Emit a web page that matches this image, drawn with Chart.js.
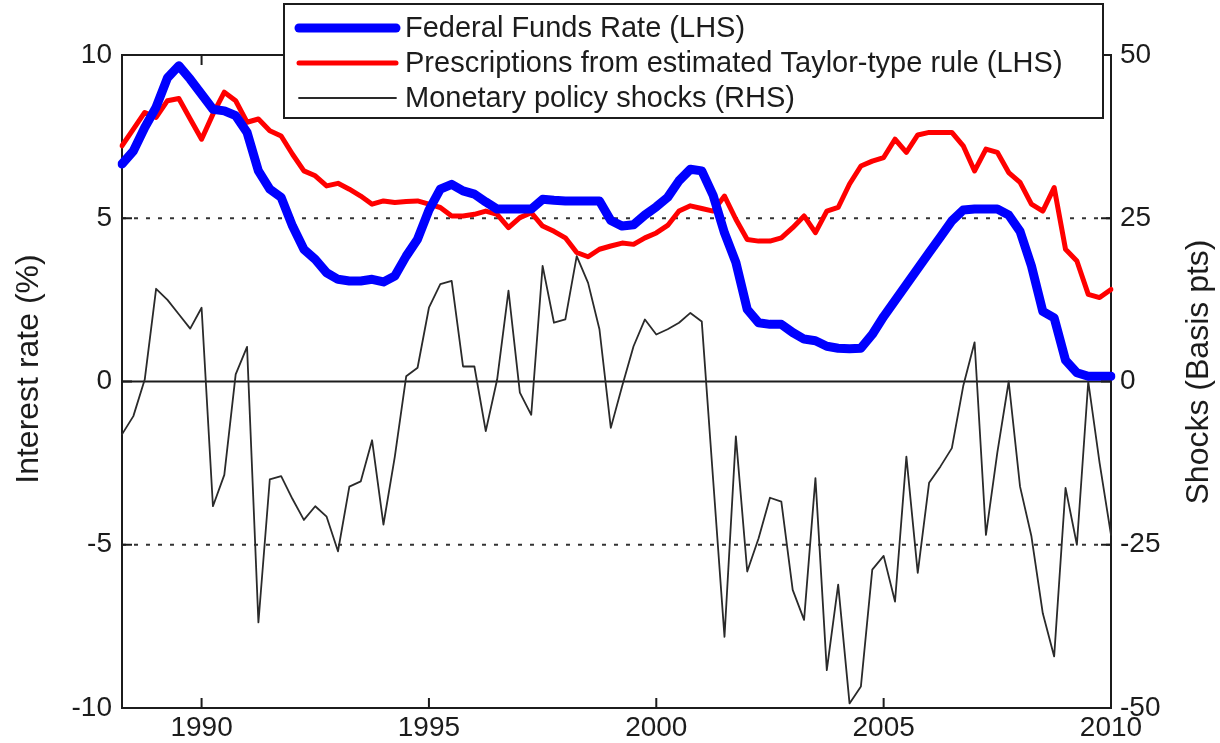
<!DOCTYPE html>
<html>
<head>
<meta charset="utf-8">
<script src="https://cdn.jsdelivr.net/npm/chart.js@4.4.1/dist/chart.umd.min.js"></script>
<style>
    body { margin: 0; background: #fff; }
    #wrap { width: 1220px; height: 743px; position: relative; }
</style>
</head>
<body>
<div id="wrap"><canvas id="chart"></canvas></div>
<script>
// quarterly data, 1988Q2 - 2010Q1
const firstYear = 1988;
const lastYear = 2010;
const xTickLabels = ['1990', '1995', '2000', '2005', '2010'];
const leftTicks = [-10, -5, 0, 5, 10];
const rightTicks = [-50, -25, 0, 25, 50];

const fedFunds = [
    6.66, 7.06, 7.78, 8.40, 9.30, 9.67, 9.26, 8.80, 8.34, 8.29,
    8.14, 7.63, 6.45, 5.89, 5.64, 4.76, 4.05, 3.74, 3.33, 3.13,
    3.08, 3.08, 3.13, 3.05, 3.23, 3.84, 4.36, 5.25, 5.89, 6.04,
    5.84, 5.74, 5.50, 5.28, 5.28, 5.28, 5.28, 5.58, 5.55, 5.53,
    5.53, 5.53, 5.53, 4.93, 4.76, 4.80, 5.10, 5.35, 5.64, 6.15,
    6.50, 6.45, 5.70, 4.55, 3.65, 2.21, 1.80, 1.75, 1.75, 1.50,
    1.30, 1.25, 1.08, 1.02, 1.00, 1.02, 1.44, 1.99, 2.48, 2.97,
    3.46, 3.95, 4.43, 4.92, 5.25, 5.28, 5.28, 5.28, 5.10, 4.60,
    3.54, 2.15, 1.95, 0.65, 0.27, 0.16, 0.16, 0.16
];
const taylorRule = [
    7.22, 7.73, 8.24, 8.09, 8.60, 8.67, 8.04, 7.42, 8.19, 8.86,
    8.60, 7.94, 8.04, 7.68, 7.52, 6.96, 6.45, 6.30, 5.99, 6.07,
    5.89, 5.68, 5.43, 5.53, 5.48, 5.51, 5.53, 5.43, 5.33, 5.07,
    5.07, 5.12, 5.22, 5.12, 4.71, 5.02, 5.17, 4.76, 4.60, 4.40,
    3.95, 3.82, 4.05, 4.15, 4.24, 4.20, 4.40, 4.55, 4.78, 5.22,
    5.38, 5.30, 5.22, 5.68, 4.97, 4.35, 4.30, 4.30, 4.40, 4.71,
    5.07, 4.56, 5.22, 5.33, 6.05, 6.60, 6.75, 6.86, 7.42, 7.02,
    7.55, 7.63, 7.63, 7.63, 7.22, 6.45, 7.12, 7.02, 6.40, 6.10,
    5.43, 5.22, 5.94, 4.05, 3.69, 2.67, 2.57, 2.82
];
const shocks = [
    -8.1, -5.3, 0.3, 14.2, 12.5, 10.3, 8.1, 11.3, -19.1, -14.3,
    1.1, 5.3, -36.9, -15.0, -14.5, -18.0, -21.2, -19.1, -20.7, -26.0,
    -16.1, -15.3, -9.0, -21.9, -11.5, 0.8, 2.1, 11.3, 14.9, 15.4,
    2.3, 2.3, -7.6, 0.3, 13.9, -1.7, -5.1, 17.7, 9.0, 9.5,
    19.2, 15.1, 8.0, -7.1, -0.7, 5.4, 9.5, 7.2, 8.0, 9.0,
    10.5, 9.2, -15.0, -39.1, -8.4, -29.1, -24.0, -17.8, -18.4, -31.9,
    -36.5, -14.8, -44.2, -31.1, -49.3, -46.7, -28.8, -26.7, -33.7, -11.5,
    -29.3, -15.5, -13.0, -10.2, -0.7, 6.0, -23.5, -10.9, 0.0, -16.1,
    -23.7, -35.5, -42.1, -16.3, -25.0, 0.0, -12.5, -23.5
];

let quarters = [];
for (let y = firstYear; y <= lastYear; y++) {
    for (let q = 1; q <= 4; q++) quarters.push(y + 'Q' + q);
}
quarters = quarters.slice(quarters.indexOf('1988Q2'), quarters.indexOf('2010Q1') + 1);

const FONT = "'Liberation Sans', Arial, Helvetica, sans-serif";
const INK = '#1c1c1c';

function drawVerticalTitle(ctx, text, x, y) {
    ctx.save();
    ctx.translate(x, y);
    ctx.rotate(-Math.PI / 2);
    ctx.fillStyle = INK;
    ctx.font = `32px ${FONT}`;
    ctx.textAlign = 'center';
    ctx.textBaseline = 'middle';
    ctx.fillText(text, 0, 0);
    ctx.restore();
}

// frame, inner ticks, reference lines, titles, legend
const framePlugin = {
    id: 'frame',
    beforeDatasetsDraw(chart) {
        const {ctx, chartArea: a, scales} = chart;
        const y = scales.y;
        ctx.save();
        ctx.strokeStyle = '#333';
        ctx.lineWidth = 2;
        ctx.setLineDash([4, 8]);
        [5, -5].forEach(v => {
            const py = y.getPixelForValue(v);
            ctx.beginPath();
            ctx.moveTo(a.left, py);
            ctx.lineTo(a.right, py);
            ctx.stroke();
        });
        ctx.setLineDash([]);
        ctx.strokeStyle = INK;
        const p0 = y.getPixelForValue(0);
        ctx.beginPath();
        ctx.moveTo(a.left, p0);
        ctx.lineTo(a.right, p0);
        ctx.stroke();
        ctx.restore();
    },
    afterDatasetsDraw(chart) {
        const {ctx, chartArea: a, scales} = chart;
        const len = 10;
        ctx.save();
        ctx.strokeStyle = INK;
        ctx.lineWidth = 2;
        ctx.beginPath();
        ctx.moveTo(a.left, a.top);
        ctx.lineTo(a.right, a.top);
        xTickLabels.forEach(t => {
            const px = scales.x.getPixelForValue(quarters.indexOf(t + 'Q1'));
            ctx.moveTo(px, a.bottom);
            ctx.lineTo(px, a.bottom - len);
            ctx.moveTo(px, a.top);
            ctx.lineTo(px, a.top + len);
        });
        leftTicks.forEach(v => {
            const py = scales.y.getPixelForValue(v);
            ctx.moveTo(a.left, py);
            ctx.lineTo(a.left + len, py);
        });
        rightTicks.forEach(v => {
            const py = scales.y1.getPixelForValue(v);
            ctx.moveTo(a.right, py);
            ctx.lineTo(a.right - len, py);
        });
        ctx.stroke();
        ctx.restore();
    },
    afterDraw(chart) {
        const {ctx} = chart;
        drawVerticalTitle(ctx, 'Interest rate (%)', 29, 369);
        drawVerticalTitle(ctx, 'Shocks (Basis pts)', 1199, 372);

        // legend box over the top of the plot
        const box = {left: 284, top: 4, right: 1103, bottom: 118};
        ctx.save();
        ctx.fillStyle = '#fff';
        ctx.fillRect(box.left, box.top, box.right - box.left, box.bottom - box.top);
        ctx.strokeStyle = INK;
        ctx.lineWidth = 2;
        ctx.strokeRect(box.left, box.top, box.right - box.left, box.bottom - box.top);
        ctx.font = `29px ${FONT}`;
        ctx.textBaseline = 'middle';
        ctx.lineCap = 'round';
        chart.data.datasets.forEach((ds, i) => {
            const rowY = 28 + i * 35;
            ctx.strokeStyle = ds.borderColor;
            ctx.lineWidth = ds.borderWidth;
            ctx.beginPath();
            ctx.moveTo(299, rowY);
            ctx.lineTo(396, rowY);
            ctx.stroke();
            ctx.fillStyle = INK;
            ctx.fillText(ds.label, 405, rowY + 1);
        });
        ctx.restore();
    }
};

const tickFont = { family: FONT, size: 28 };

const ctx = document.getElementById('chart').getContext('2d');
const chart = new Chart(ctx, {
    type: 'line',
    data: {
        labels: quarters,
        datasets: [
            {
                label: 'Federal Funds Rate (LHS)',
                data: fedFunds,
                borderColor: '#0000ff',
                borderWidth: 9,
                yAxisID: 'y'
            },
            {
                label: 'Prescriptions from estimated Taylor-type rule (LHS)',
                data: taylorRule,
                borderColor: '#ff0000',
                borderWidth: 5,
                yAxisID: 'y'
            },
            {
                label: 'Monetary policy shocks (RHS)',
                data: shocks,
                borderColor: '#2a2a2a',
                borderWidth: 1.8,
                yAxisID: 'y1'
            }
        ]
    },
    options: {
        responsive: true,
        maintainAspectRatio: false,
        animation: false,
        layout: { padding: { top: 55, left: 0, right: 0, bottom: 0 } },
        elements: {
            point: { radius: 0 },
            line: { tension: 0, borderJoinStyle: 'round', borderCapStyle: 'round' }
        },
        plugins: {
            legend: { display: false },
            tooltip: { enabled: false }
        },
        scales: {
            x: {
                type: 'category',
                grid: { display: false, drawTicks: false },
                border: { display: true, color: INK, width: 2 },
                ticks: {
                    autoSkip: false,
                    maxRotation: 0,
                    padding: 3,
                    color: INK,
                    font: tickFont,
                    callback: function(value) {
                        const lab = this.getLabelForValue(value);
                        const yr = lab.slice(0, 4);
                        return (lab.endsWith('Q1') && xTickLabels.includes(yr)) ? yr : null;
                    }
                },
                afterFit: scale => { scale.height = 35; }
            },
            y: {
                position: 'left',
                min: -10,
                max: 10,
                grid: { display: false, drawTicks: false },
                border: { display: true, color: INK, width: 2 },
                ticks: {
                    stepSize: 5,
                    padding: 10,
                    color: INK,
                    font: tickFont
                },
                afterFit: scale => { scale.width = 122; }
            },
            y1: {
                position: 'right',
                min: -50,
                max: 50,
                grid: { display: false, drawTicks: false },
                border: { display: true, color: INK, width: 2 },
                ticks: {
                    stepSize: 25,
                    padding: 9,
                    color: INK,
                    font: tickFont
                },
                afterFit: scale => { scale.width = 109; }
            }
        }
    },
    plugins: [framePlugin]
});
</script>
</body>
</html>
